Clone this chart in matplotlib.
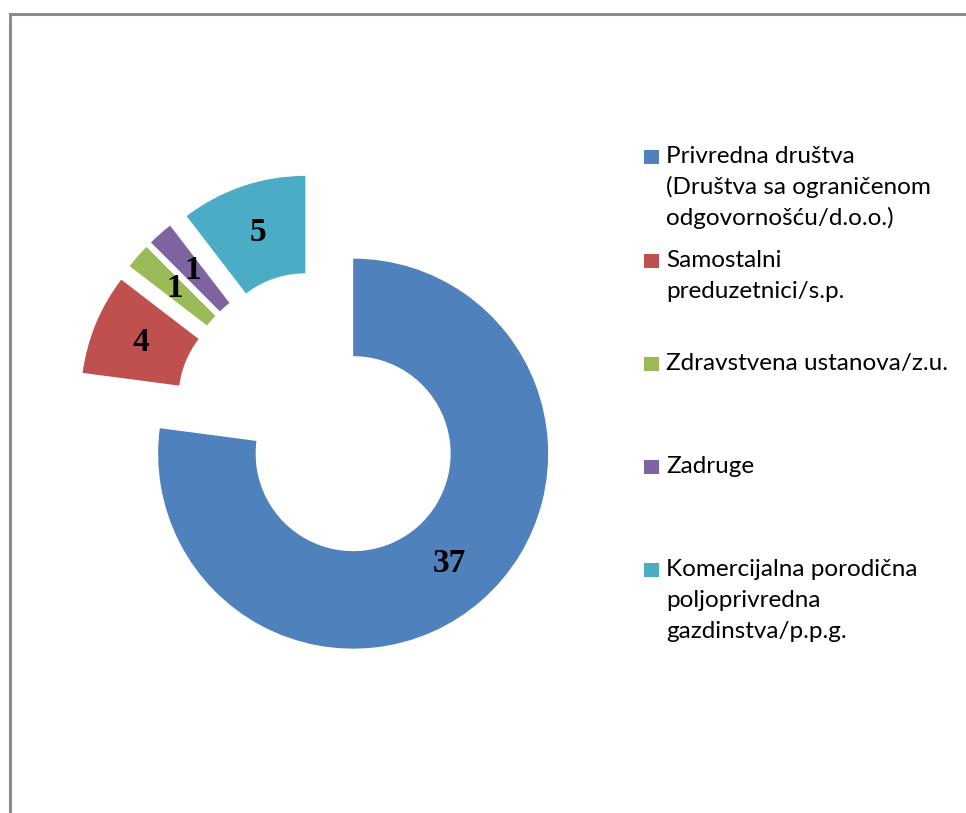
import matplotlib
matplotlib.use("Agg")
import matplotlib.pyplot as plt
from matplotlib.patches import Rectangle
from matplotlib.lines import Line2D

categories = [
    "Privredna društva\n(Društva sa ograničenom\nodgovornošću/d.o.o.)",
    "Samostalni\npreduzetnici/s.p.",
    "Zdravstvena ustanova/z.u.",
    "Zadruge",
    "Komercijalna porodična\npoljoprivredna\ngazdinstva/p.p.g.",
]
values = [37, 4, 1, 1, 5]
colors = ["#4F81BD", "#C0504D", "#9BBB59", "#8064A2", "#4BACC6"]

W, H, DPI = 966, 813, 100
fig = plt.figure(figsize=(W / DPI, H / DPI), dpi=DPI)
fig.patch.set_facecolor("white")

# pie placement in pixels
cx, cy_top, R = 321.0, 417.0, 195.0
ax = fig.add_axes([0, 0, 1, 1])
total = sum(values)
wedges, texts, autotexts = ax.pie(
    values, colors=colors, startangle=90, counterclock=False,
    explode=[0.25] * len(values), radius=1.0,
    wedgeprops=dict(width=0.5, linewidth=0),
    autopct=lambda p: f"{round(p * total / 100)}", pctdistance=0.75,
    textprops=dict(family="Liberation Serif", fontweight="bold",
                   fontsize=24, color="black"),
)
x0 = -cx / R
y0 = -(H - cy_top) / R
ax.set_xlim(x0, x0 + W / R)
ax.set_ylim(y0, y0 + H / R)
ax.set_aspect("auto")
ax.axis("off")

# legend drawn manually
leg_base = [163, 267, 370, 473, 576]
line_step = 31
sq_x, sq_w = 644, 15
txt_x = 666
for lab, col, yb in zip(categories, colors, leg_base):
    fig.patches.append(Rectangle((sq_x / W, 1 - (yb + 1) / H), sq_w / W, 14 / H,
                                 transform=fig.transFigure, facecolor=col,
                                 edgecolor="none"))
    for i, line in enumerate(lab.split("\n")):
        fig.text(txt_x / W, 1 - (yb + i * line_step) / H, line, ha="left",
                 va="baseline", family="Lato", fontsize=17.5, color="black")

# outer frame
fig.lines.append(Line2D([9.5 / W, 9.5 / W], [0, 1 - 14 / H], transform=fig.transFigure,
                        color="#8c8c8c", linewidth=2.2))
fig.lines.append(Line2D([9.5 / W, 1], [1 - 14 / H, 1 - 14 / H], transform=fig.transFigure,
                        color="#8c8c8c", linewidth=2.2))

fig.savefig("out.png", dpi=DPI)
